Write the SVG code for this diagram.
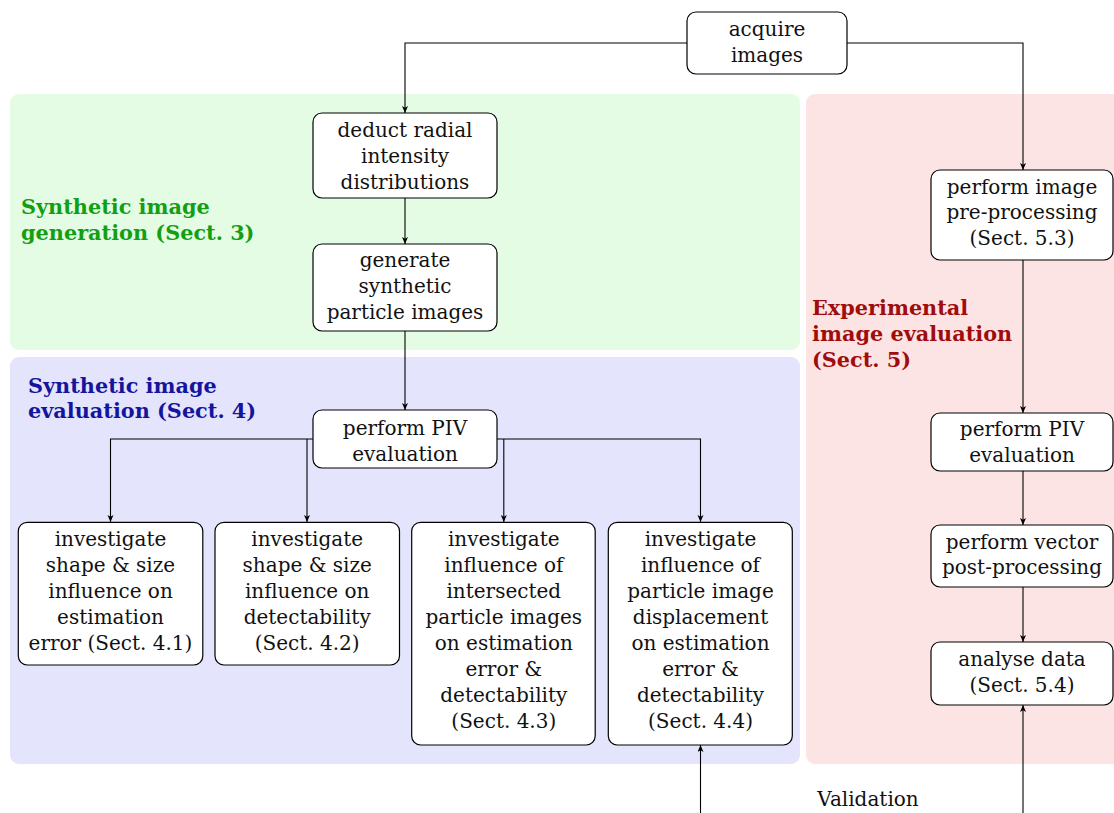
<svg xmlns="http://www.w3.org/2000/svg" width="1114" height="813" viewBox="0 0 1114 813">
<style>
.node rect{fill:#fff;stroke:#000;stroke-width:1.2}
.t{font-family:"DejaVu Serif","Liberation Serif",serif;font-size:20px;fill:#111;text-anchor:middle}
.lbl{font-family:"DejaVu Serif","Liberation Serif",serif;font-size:20.8px;font-weight:bold}
.c path{fill:none;stroke:#000;stroke-width:1.1}
</style>
<defs>
<marker id="ah" markerUnits="userSpaceOnUse" markerWidth="10" markerHeight="8" refX="7" refY="3" orient="auto">
<path d="M0,0 L7,3 L0,6 L1.8,3 z" fill="#000"/>
</marker>
</defs>
<g id="regions">
<rect x="10" y="94" width="790" height="256" rx="9" fill="#e4fce4"/>
<rect x="10" y="357" width="790" height="407" rx="9" fill="#e4e4fc"/>
<rect x="806" y="94" width="330" height="670" rx="9" fill="#fde4e4"/>
<text class="lbl" x="21" y="214" fill="#12a012">Synthetic image</text>
<text class="lbl" x="21" y="240" fill="#12a012">generation (Sect. 3)</text>
<text class="lbl" x="28" y="393" fill="#14149c">Synthetic image</text>
<text class="lbl" x="28" y="418" fill="#14149c">evaluation (Sect. 4)</text>
<text class="lbl" x="812" y="315" fill="#a00c0c">Experimental</text>
<text class="lbl" x="812" y="341" fill="#a00c0c">image evaluation</text>
<text class="lbl" x="812" y="367" fill="#a00c0c">(Sect. 5)</text>
</g>
<g class="c" id="connectors">
<path d="M687,43 H405 V113" marker-end="url(#ah)"/>
<path d="M847,43 H1023 V170" marker-end="url(#ah)"/>
<path d="M405,198 V244" marker-end="url(#ah)"/>
<path d="M405,331 V410" marker-end="url(#ah)"/>
<path d="M313,439 H110.5 V522" marker-end="url(#ah)"/>
<path d="M307,439 V522" marker-end="url(#ah)"/>
<path d="M503.8,439 V522" marker-end="url(#ah)"/>
<path d="M497,439 H700.5 V522" marker-end="url(#ah)"/>
<path d="M1023,260 V413" marker-end="url(#ah)"/>
<path d="M1023,471 V525" marker-end="url(#ah)"/>
<path d="M1023,587 V642" marker-end="url(#ah)"/>
<path d="M700.5,813 V745" marker-end="url(#ah)"/>
<path d="M1023,813 V705" marker-end="url(#ah)"/>
<text class="t" x="868" y="806">Validation</text>
</g>
<g class="node" id="acquire">
<rect x="687" y="12" width="160" height="62" rx="9"/>
<text class="t" x="767" y="36">acquire</text>
<text class="t" x="767" y="62">images</text>
</g>
<g class="node" id="deduct">
<rect x="313" y="113" width="184" height="85" rx="9"/>
<text class="t" x="405" y="137">deduct radial</text>
<text class="t" x="405" y="163">intensity</text>
<text class="t" x="405" y="189">distributions</text>
</g>
<g class="node" id="generate">
<rect x="313" y="244" width="184" height="87" rx="9"/>
<text class="t" x="405" y="267">generate</text>
<text class="t" x="405" y="293">synthetic</text>
<text class="t" x="405" y="319">particle images</text>
</g>
<g class="node" id="piv-syn">
<rect x="313" y="410" width="184" height="58" rx="9"/>
<text class="t" x="405" y="435">perform PIV</text>
<text class="t" x="405" y="461">evaluation</text>
</g>
<g class="node" id="inv1">
<rect x="18.3" y="522.3" width="184.5" height="142.7" rx="9"/>
<text class="t" x="110.5" y="546">investigate</text>
<text class="t" x="110.5" y="572">shape &amp; size</text>
<text class="t" x="110.5" y="598">influence on</text>
<text class="t" x="110.5" y="624">estimation</text>
<text class="t" x="110.5" y="650">error (Sect. 4.1)</text>
</g>
<g class="node" id="inv2">
<rect x="215" y="522.3" width="184.5" height="142.7" rx="9"/>
<text class="t" x="307.2" y="546">investigate</text>
<text class="t" x="307.2" y="572">shape &amp; size</text>
<text class="t" x="307.2" y="598">influence on</text>
<text class="t" x="307.2" y="624">detectability</text>
<text class="t" x="307.2" y="650">(Sect. 4.2)</text>
</g>
<g class="node" id="inv3">
<rect x="411.7" y="522.3" width="183.5" height="222.7" rx="9"/>
<text class="t" x="503.8" y="546">investigate</text>
<text class="t" x="503.8" y="572">influence of</text>
<text class="t" x="503.8" y="598">intersected</text>
<text class="t" x="503.8" y="624">particle images</text>
<text class="t" x="503.8" y="650">on estimation</text>
<text class="t" x="503.8" y="676">error &amp;</text>
<text class="t" x="503.8" y="702">detectability</text>
<text class="t" x="503.8" y="728">(Sect. 4.3)</text>
</g>
<g class="node" id="inv4">
<rect x="608.3" y="522.3" width="184" height="222.7" rx="9"/>
<text class="t" x="700.5" y="546">investigate</text>
<text class="t" x="700.5" y="572">influence of</text>
<text class="t" x="700.5" y="598">particle image</text>
<text class="t" x="700.5" y="624">displacement</text>
<text class="t" x="700.5" y="650">on estimation</text>
<text class="t" x="700.5" y="676">error &amp;</text>
<text class="t" x="700.5" y="702">detectability</text>
<text class="t" x="700.5" y="728">(Sect. 4.4)</text>
</g>
<g class="node" id="preproc">
<rect x="931" y="170" width="182" height="90" rx="9"/>
<text class="t" x="1022" y="194">perform image</text>
<text class="t" x="1022" y="219">pre-processing</text>
<text class="t" x="1022" y="245">(Sect. 5.3)</text>
</g>
<g class="node" id="piv-exp">
<rect x="931" y="413" width="182" height="58" rx="9"/>
<text class="t" x="1022" y="436">perform PIV</text>
<text class="t" x="1022" y="462">evaluation</text>
</g>
<g class="node" id="vector">
<rect x="931" y="525" width="182" height="62" rx="9"/>
<text class="t" x="1022" y="549">perform vector</text>
<text class="t" x="1022" y="574">post-processing</text>
</g>
<g class="node" id="analyse">
<rect x="931" y="642" width="182" height="63" rx="9"/>
<text class="t" x="1022" y="666">analyse data</text>
<text class="t" x="1022" y="692">(Sect. 5.4)</text>
</g>
</svg>
